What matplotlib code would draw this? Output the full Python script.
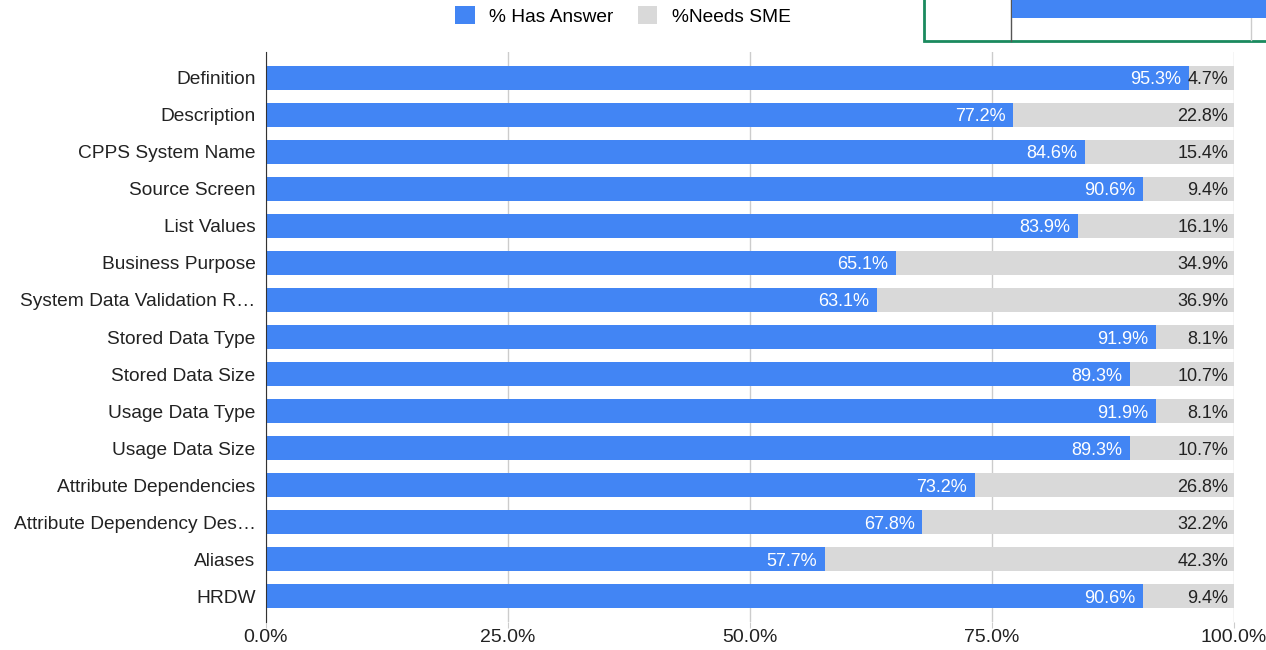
import matplotlib
matplotlib.use("Agg")
from matplotlib import pyplot as plt
from matplotlib.patches import Rectangle
from matplotlib.lines import Line2D
import numpy as np

plt.rcParams['font.family'] = ['Liberation Sans', 'DejaVu Sans']

categories = ["Definition", "Description", "CPPS System Name", "Source Screen",
              "List Values", "Business Purpose", "System Data Validation R\u2026",
              "Stored Data Type", "Stored Data Size", "Usage Data Type",
              "Usage Data Size", "Attribute Dependencies",
              "Attribute Dependency Des\u2026", "Aliases", "HRDW"]
has_answer = [95.3, 77.2, 84.6, 90.6, 83.9, 65.1, 63.1, 91.9, 89.3, 91.9, 89.3, 73.2, 67.8, 57.7, 90.6]
needs_sme = [4.7, 22.8, 15.4, 9.4, 16.1, 34.9, 36.9, 8.1, 10.7, 8.1, 10.7, 26.8, 32.2, 42.3, 9.4]
xticks = [0, 25, 50, 75, 100]

blue = '#4285F4'
grey = '#D9D9D9'

fig = plt.figure(figsize=(12.66, 6.5), dpi=100)
ax = fig.add_axes([266/1266, 1-622/650, 968/1266, 570/650])

y = np.arange(len(categories))
ha = np.array(has_answer)
ns = np.array(needs_sme)
ax.barh(y, ha, height=0.65, color=blue, label='% Has Answer', zorder=2)
ax.barh(y, ns, left=ha, height=0.65, color=grey, label='%Needs SME', zorder=2)

for i in range(len(categories)):
    ax.text(ha[i]-0.8, y[i], f"{ha[i]:.1f}%", color='white', ha='right', va='center_baseline', fontsize=13, zorder=3)
    ax.text(ha[i]+ns[i]-0.6, y[i], f"{ns[i]:.1f}%", color='#222222', ha='right', va='center_baseline', fontsize=13, zorder=3)

ax.set_xlim(0, 100)
ax.set_ylim(len(categories)-1+0.69, -0.69)
ax.set_yticks(y)
ax.set_yticklabels(categories, fontsize=13.8, color='#222222')
ax.set_xticks(xticks)
ax.set_xticklabels([f"{v:.1f}%" for v in xticks], fontsize=14, color='#222222')
ax.tick_params(axis='y', length=0, pad=7.5)
ax.tick_params(axis='x', length=4, color='#cccccc', pad=1)
ax.grid(axis='x', color='#cccccc', linewidth=1, zorder=0)
for s in ['top', 'right', 'bottom']:
    ax.spines[s].set_visible(False)
ax.spines['left'].set_color('#333333')
ax.spines['left'].set_zorder(4)

fig.legend(loc='center', bbox_to_anchor=(623/1266, 1-16/650), ncol=2, frameon=False,
           fontsize=13.8, handlelength=1.0, handleheight=1.0, columnspacing=1.3, handletextpad=0.75)

# thumbnail overlay at top right
fig.patches.append(Rectangle((924/1266, 1-41/650), 400/1266, 60/650, transform=fig.transFigure,
                             facecolor='white', edgecolor='#1a8a5e', linewidth=2, zorder=5))
fig.patches.append(Rectangle((1012/1266, 1-18/650), 260/1266, 20/650, transform=fig.transFigure,
                             facecolor=blue, edgecolor='none', zorder=6))
fig.lines.append(Line2D([1011/1266, 1011/1266], [1-41/650, 1.0], transform=fig.transFigure,
                        color='#555555', linewidth=1, zorder=6))
fig.lines.append(Line2D([1251/1266, 1251/1266], [1-40/650, 1-18/650], transform=fig.transFigure,
                        color='#cccccc', linewidth=1, zorder=6))

fig.savefig('out.png', dpi=100)
